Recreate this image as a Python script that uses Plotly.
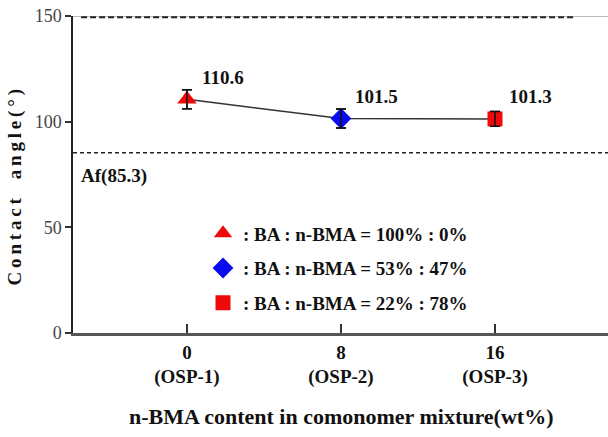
import plotly.graph_objects as go

# Contact angle vs n-BMA content
nbma_wt = [0, 8, 16]
sample_names = ["OSP-1", "OSP-2", "OSP-3"]
contact_angle = [110.6, 101.5, 101.3]
angle_err = [4.5, 4.5, 3.5]
af_angle = 85.3
upper_ref = 150
ratio_labels = [
    ": BA : n-BMA = 100% : 0%",
    ": BA : n-BMA = 53% : 47%",
    ": BA : n-BMA = 22% : 78%",
]
symbols = ["triangle-up", "diamond", "square"]
colors = ["#ee0a0a", "#0a0aee", "#ee0a0a"]
sizes = [17, 16, 15]

SERIF = "Liberation Serif, Times New Roman, serif"
X_MIN, X_MAX = -5.92, 21.87

fig = go.Figure()

# connecting line with error bars
fig.add_trace(go.Scatter(
    x=nbma_wt, y=contact_angle, mode="lines",
    line=dict(color="#333333", width=1.5),
    error_y=dict(type="data", array=angle_err, visible=True,
                 color="#111111", thickness=1.5, width=5),
    showlegend=False, hoverinfo="skip",
))

# one marker per composition, also used as the legend entry
for i, lab in enumerate(ratio_labels):
    fig.add_trace(go.Scatter(
        x=[nbma_wt[i]], y=[contact_angle[i]], mode="markers",
        name=f"<b>{lab}</b>", legendgroup=f"g{i}",
        marker=dict(symbol=symbols[i], color=colors[i], size=sizes[i],
                    opacity=1, line=dict(width=0)),
        hoverinfo="skip",
    ))

# error bar stems drawn over the markers
fig.add_trace(go.Scatter(
    x=nbma_wt, y=contact_angle, mode="none",
    error_y=dict(type="data", array=angle_err, visible=True,
                 color="#111111", thickness=1.5, width=5),
    showlegend=False, hoverinfo="skip",
))

# value labels above each point
for x, y in zip(nbma_wt, contact_angle):
    fig.add_annotation(x=x, y=y, text=f"<b>{y:.1f}</b>", showarrow=False,
                       xshift=36, yshift=22,
                       font=dict(family=SERIF, size=19, color="#111111"))

# reference lines
fig.add_shape(type="line", xref="x", yref="y", x0=X_MIN, x1=X_MAX,
              y0=af_angle, y1=af_angle,
              line=dict(color="#222222", width=1.3, dash="4px,3px"))
fig.add_shape(type="line", xref="x", yref="y", x0=X_MIN, x1=X_MAX,
              y0=upper_ref, y1=upper_ref,
              line=dict(color="#777777", width=1.2))
fig.add_shape(type="line", xref="x", yref="y", x0=-5.5, x1=20.2,
              y0=upper_ref - 0.6, y1=upper_ref - 0.6,
              line=dict(color="#222222", width=2.2, dash="6px,3px"))

fig.add_annotation(x=X_MIN, y=af_angle, xref="x", yref="y",
                   text="<b>Af(85.3)</b>", showarrow=False,
                   xanchor="left", xshift=6, yshift=-23,
                   font=dict(family=SERIF, size=19, color="#111111"))

# axis titles
fig.add_annotation(xref="paper", yref="paper", x=0.5, y=-0.262,
                   text="<b>n-BMA content in comonomer mixture(wt%)</b>",
                   showarrow=False, xanchor="center", yanchor="middle",
                   font=dict(family=SERIF, size=22, color="#111111"))
sp = "\u2009"
ytitle = sp.join("Contact") + "\u2005" * 4 + sp.join("angle(°)")
fig.add_annotation(xref="paper", yref="paper", x=-0.108, y=0.46,
                   text=f"<b>{ytitle}</b>", textangle=-90,
                   showarrow=False, xanchor="center", yanchor="middle",
                   font=dict(family=SERIF, size=19, color="#111111"))

fig.update_layout(
    width=608, height=437,
    margin=dict(l=73, r=0, t=16, b=104),
    paper_bgcolor="white", plot_bgcolor="white",
    showlegend=True,
    legend=dict(x=0.243, y=0.374, xanchor="left", yanchor="top",
                bgcolor="rgba(0,0,0,0)", tracegroupgap=7,
                font=dict(family=SERIF, size=19, color="#111111"),
                itemwidth=30),
    xaxis=dict(
        range=[X_MIN, X_MAX], showgrid=False, zeroline=False,
        showline=True, linecolor="#555555", linewidth=2.5,
        tickmode="array", tickvals=nbma_wt,
        ticktext=[f"<b>{v}<br>({n})</b>" for v, n in zip(nbma_wt, sample_names)],
        ticks="inside", ticklen=9, tickwidth=1.5, tickcolor="#333333",
        tickfont=dict(family=SERIF, size=19, color="#111111"),
    ),
    yaxis=dict(
        range=[0, 150], showgrid=False, zeroline=False,
        showline=True, linecolor="#222222", linewidth=1.5,
        tickmode="array", tickvals=[0, 50, 100, 150],
        ticks="outside", ticklen=6, tickwidth=1.5, tickcolor="#333333",
        tickfont=dict(family=SERIF, size=18, color="#444444"),
    ),
)

fig.write_html("out.html")
